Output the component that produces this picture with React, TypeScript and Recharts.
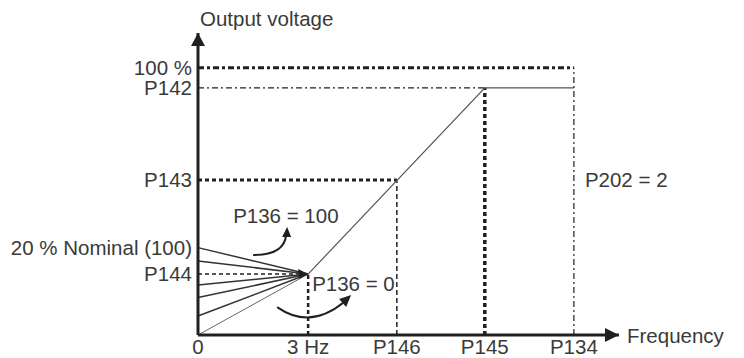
import React from 'react';
import {
  LineChart,
  Line,
  XAxis,
  YAxis,
  ReferenceLine,
  ReferenceDot
} from 'recharts';

// x positions (arbitrary units, P134 = 100)
const xTickValues = [0, 29.3, 52.9, 76.3, 100];
const xTickLabels = ['0', '3 Hz', 'P146', 'P145', 'P134'];

// y positions (arbitrary units, 100 % = 100)
const yTickValues = [100, 92.5, 58, 32.7, 22.8];
const yTickLabels = ['100 %', 'P142', 'P143', '20 % Nominal (100)', 'P144'];

// V/f curve: 3 Hz/P144 -> P145/P142 -> P134/P142
const curveX = [29.3, 76.3, 100];
const curveY = [22.8, 92.5, 92.5];

// boost lines starting on the voltage axis and meeting at (3 Hz, P144)
const fanStart = [32.7, 27.7, 18.7, 14.0, 7.1, 0];

const X_MAX = 112;
const Y_MAX = 113;
const INK = '#231f20';
const TEXT = '#3a3a3a';
const FONT = '"Liberation Sans", Arial, sans-serif';
const FS = 20.5;

const curveData = curveX.map((x, i) => ({ x, y: curveY[i] }));
const fanData = fanStart.map((v) => [
  { x: 0, y: v },
  { x: xTickValues[1], y: yTickValues[4] }
]);

const label = (values: number[], labels: string[]) => (v: number) => {
  const i = values.indexOf(v);
  return i >= 0 ? labels[i] : '';
};

const YArrow = (props: any) => {
  const { cx, cy } = props;
  return (
    <g>
      <polygon points={`${cx},${cy} ${cx - 7},${cy + 13} ${cx + 7},${cy + 13}`} fill={INK} />
      <text x={cx + 2} y={cy - 15} fontSize={FS} fill={TEXT} fontFamily={FONT} dominantBaseline="central">
        Output voltage
      </text>
    </g>
  );
};

const XArrow = (props: any) => {
  const { cx, cy } = props;
  return (
    <g>
      <polygon points={`${cx},${cy} ${cx - 14},${cy - 7} ${cx - 14},${cy + 7}`} fill={INK} />
      <text x={cx + 8} y={cy} fontSize={FS} fill={TEXT} fontFamily={FONT} dominantBaseline="central">
        Frequency
      </text>
    </g>
  );
};

const BoostNotes = (props: any) => {
  const { cx, cy } = props;
  return (
    <g>
      <polygon points={`${cx},${cy} ${cx - 10},${cy - 5} ${cx - 9},${cy + 5}`} fill={INK} />
      <text x={cx - 75} y={cy - 59} fontSize={FS} fill={TEXT} fontFamily={FONT} dominantBaseline="central">
        P136 = 100
      </text>
      <path d={`M${cx - 55},${cy - 19} Q${cx - 24},${cy - 19} ${cx - 22},${cy - 39}`} stroke={INK} strokeWidth={2} fill="none" />
      <polygon points={`${cx - 21},${cy - 47} ${cx - 26},${cy - 37} ${cx - 17},${cy - 37}`} fill={INK} />
      <text x={cx + 4} y={cy + 9} fontSize={FS} fill={TEXT} fontFamily={FONT} dominantBaseline="central">
        P136 = 0
      </text>
      <path d={`M${cx - 31},${cy + 33} Q${cx + 2},${cy + 56} ${cx + 36},${cy + 28}`} stroke={INK} strokeWidth={2} fill="none" />
      <polygon points={`${cx + 43},${cy + 21} ${cx + 31},${cy + 25} ${cx + 38},${cy + 33}`} fill={INK} />
    </g>
  );
};

const SideNote = (props: any) => {
  const { cx, cy } = props;
  return (
    <text x={cx + 11} y={cy} fontSize={FS} fill={TEXT} fontFamily={FONT} dominantBaseline="central">
      P202 = 2
    </text>
  );
};

export default function App() {
  const [x0, x3, x146, x145, x134] = xTickValues;
  const [y100, y142, y143, , y144] = yTickValues;
  return (
    <div style={{ position: 'absolute', left: 0, top: 0, background: '#fff' }}>
      <LineChart
        width={744}
        height={358}
        margin={{ top: 33, right: 125, bottom: 0, left: 0 }}
      >
        <XAxis
          type="number"
          dataKey="x"
          domain={[0, X_MAX]}
          ticks={xTickValues}
          interval={0}
          tickFormatter={label(xTickValues, xTickLabels)}
          tickLine={false}
          tickSize={3}
          tickMargin={1}
          height={23}
          axisLine={{ stroke: INK, strokeWidth: 3 }}
          tick={{ fontSize: FS, fill: TEXT, fontFamily: FONT }}
        />
        <YAxis
          type="number"
          domain={[0, Y_MAX]}
          ticks={yTickValues}
          interval={0}
          tickFormatter={label(yTickValues, yTickLabels)}
          tickLine={false}
          tickSize={4}
          tickMargin={2}
          width={198}
          axisLine={{ stroke: INK, strokeWidth: 3 }}
          tick={{ fontSize: FS, fill: TEXT, fontFamily: FONT }}
        />

        <ReferenceLine segment={[{ x: x0, y: y100 }, { x: x134, y: y100 }]} stroke={INK} strokeWidth={3} strokeDasharray="6 3 3 3" />
        <ReferenceLine segment={[{ x: x0, y: y142 }, { x: x145, y: y142 }]} stroke={INK} strokeWidth={1.2} strokeDasharray="6 3 2 3" />
        <ReferenceLine segment={[{ x: x0, y: y143 }, { x: x146, y: y143 }]} stroke={INK} strokeWidth={3} strokeDasharray="4 3" />
        <ReferenceLine segment={[{ x: x0, y: y144 }, { x: x3, y: y144 }]} stroke={INK} strokeWidth={1.5} strokeDasharray="4 3" />
        <ReferenceLine segment={[{ x: x3, y: 0 }, { x: x3, y: y144 }]} stroke={INK} strokeWidth={2.5} strokeDasharray="4 3" />
        <ReferenceLine segment={[{ x: x146, y: 0 }, { x: x146, y: y143 }]} stroke={INK} strokeWidth={1.5} strokeDasharray="5 3" />
        <ReferenceLine segment={[{ x: x145, y: 0 }, { x: x145, y: y142 }]} stroke={INK} strokeWidth={3.5} strokeDasharray="4 3" />
        <ReferenceLine segment={[{ x: x134, y: 0 }, { x: x134, y: y100 }]} stroke={INK} strokeWidth={1.2} strokeDasharray="6 3 2 3" />

        {fanData.map((d, i) => (
          <Line
            key={i}
            data={d}
            dataKey="y"
            stroke={i === fanData.length - 1 ? '#666' : '#333'}
            strokeWidth={i === fanData.length - 1 ? 1 : 1.5}
            dot={false}
            activeDot={false}
            isAnimationActive={false}
          />
        ))}
        <Line
          data={curveData}
          dataKey="y"
          stroke="#555"
          strokeWidth={1.2}
          dot={false}
          activeDot={false}
          isAnimationActive={false}
        />

        <ReferenceDot x={x0} y={Y_MAX} r={0} shape={YArrow} ifOverflow="visible" />
        <ReferenceDot x={X_MAX} y={0} r={0} shape={XArrow} ifOverflow="visible" />
        <ReferenceDot x={x3} y={y144} r={0} shape={BoostNotes} ifOverflow="visible" />
        <ReferenceDot x={x134} y={y143} r={0} shape={SideNote} ifOverflow="visible" />
      </LineChart>
    </div>
  );
}
